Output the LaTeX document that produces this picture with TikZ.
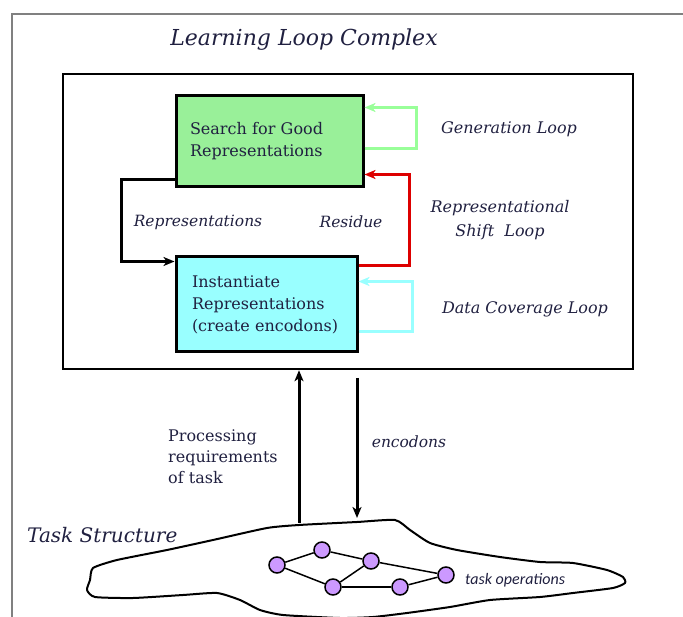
\documentclass[tikz,border=0pt]{standalone}
\usepackage{fontspec}
\setmainfont{DejaVu Serif}
\newfontfamily\carl{Carlito}
\usetikzlibrary{arrows.meta,calc}
\definecolor{boxgreen}{HTML}{99F099}
\definecolor{boxcyan}{HTML}{99FFFF}
\definecolor{loopgreen}{HTML}{99FF99}
\definecolor{loopcyan}{HTML}{99FFFF}
\definecolor{loopred}{HTML}{DD0000}
\definecolor{opviolet}{HTML}{CC99FF}
\definecolor{txt}{HTML}{202040}
\tikzset{
  procbox/.style={draw=black, line width=3pt, align=left, font=\fontsize{16}{22}\selectfont, text=txt},
  lbl/.style={font=\fontsize{16}{24}\itshape\selectfont, text=txt, inner sep=0pt, align=center},
  tip/.style={-{Stealth[length=11pt,width=9pt,inset=3pt]}},
  loopline/.style={line width=3pt, tip},
  opnode/.style={circle, draw=black, line width=1.5pt, fill=opviolet, minimum size=16pt, inner sep=0pt},
  opedge/.style={line width=1.5pt}
}
\begin{document}
\begin{tikzpicture}[x=1pt,y=-1pt]
\useasboundingbox (0,0) rectangle (683,617);
% outer gray frame
\draw[gray, line width=2pt] (12,617) -- (12,14) -- (683,14);
% title
\node[lbl, font=\fontsize{22}{24}\itshape\selectfont] (title) at (304,40) {Learning Loop Complex};
% inner box
\node[draw=black, line width=2.5pt, minimum width=570pt, minimum height=295pt, inner sep=0pt] (outer) at (348,221.5) {};
% boxes
\node[procbox, fill=boxgreen, text width=159pt, inner xsep=14pt, minimum height=91pt] (green) at (269.5,141.5) {Search for Good\\Representations};
\node[procbox, fill=boxcyan, text width=149pt, inner xsep=16pt, minimum height=95pt] (cyan) at (266.5,304.5) {Instantiate\\Representations\\(create encodons)};
% connector coordinates
\coordinate (bA) at ($(green.south west)+(0,-9)$);
\coordinate (bB) at ($(cyan.north west)+(0,6)$);
\coordinate (gA) at ($(green.north east)+(0,13)$);
\coordinate (gB) at ($(green.north east)+(0,54)$);
\coordinate (rA) at ($(cyan.north east)+(0,10)$);
\coordinate (rB) at ($(green.south east)+(0,-14)$);
\coordinate (cA) at ($(cyan.north east)+(0,26)$);
\coordinate (cB) at ($(cyan.north east)+(0,76)$);
\draw[loopline, black] (bA) -- ++(-53,0) |- (bB);
\draw[loopline, loopgreen] (gB) -- ++(52,0) |- (gA);
\draw[loopline, loopred, line width=3.5pt] (rA) -- ++(51,0) |- (rB);
\draw[loopline, loopcyan] (cB) -- ++(54,0) |- (cA);
% labels
\node[lbl, font=\fontsize{15.5}{24}\itshape\selectfont] (lrep) at (198,222) {Representations};
\node[lbl, font=\fontsize{15.5}{24}\itshape\selectfont] (lres) at (351,222) {Residue};
\node[lbl] (lgen) at (509,129) {Generation Loop};
\node[lbl] (lshift) at (500,220) {Representational\\Shift\ \ Loop};
\node[lbl] (ldata) at (525,309) {Data Coverage Loop};
% task structure blob
\draw[line width=2pt, line join=round] plot[smooth cycle, tension=0.35] coordinates {
 (299,525) (357,522) (395,520) (410,530) (430,543) (457,550) (500,557) (540,562)
 (573,563) (607,570) (623,577) (625,583) (613,588) (573,593) (540,597) (490,600)
 (450,607) (407,613) (373,617) (340,618) (283,615) (260,610) (240,600) (217,593)
 (183,595) (133,598) (95,597) (87,590) (90,580) (93,568) (117,560) (167,550)
 (213,540) (267,528)};
\coordinate (upS) at (299,523);
\coordinate (dnS) at (357,378);
\coordinate (dnE) at (357,518);
\draw[line width=3pt, tip] (upS) -- (upS |- outer.south);
\draw[line width=3pt, tip] (dnS) -- (dnE);
\node[font=\fontsize{16}{21}\selectfont, text=txt, align=left, anchor=west, inner sep=0pt] (proc) at (168,457) {Processing\\requirements\\of task};
\node[lbl, font=\fontsize{15.5}{24}\itshape\selectfont] (lenc) at (409,442) {encodons};
\node[lbl, font=\fontsize{20}{22}\itshape\selectfont, anchor=west] (task) at (27,535) {Task Structure};
% task operations graph
\node[opnode] (n1) at (277,565) {};
\node[opnode] (n2) at (322,550) {};
\node[opnode] (n3) at (371,561) {};
\node[opnode] (n4) at (333,587) {};
\node[opnode] (n5) at (400,587) {};
\node[opnode] (n6) at (446,575) {};
\draw[opedge] (n1) -- (n2);
\draw[opedge] (n2) -- (n3);
\draw[opedge] (n1) -- (n4);
\draw[opedge] (n4) -- (n3);
\draw[opedge] (n3) -- (n6);
\draw[opedge] (n4) -- (n5);
\draw[opedge] (n5) -- (n6);
\node[font=\carl\fontsize{16}{18}\itshape\selectfont, text=txt, anchor=west, inner sep=0pt] (lops) at (465,580) {task operations};
\end{tikzpicture}
\end{document}
